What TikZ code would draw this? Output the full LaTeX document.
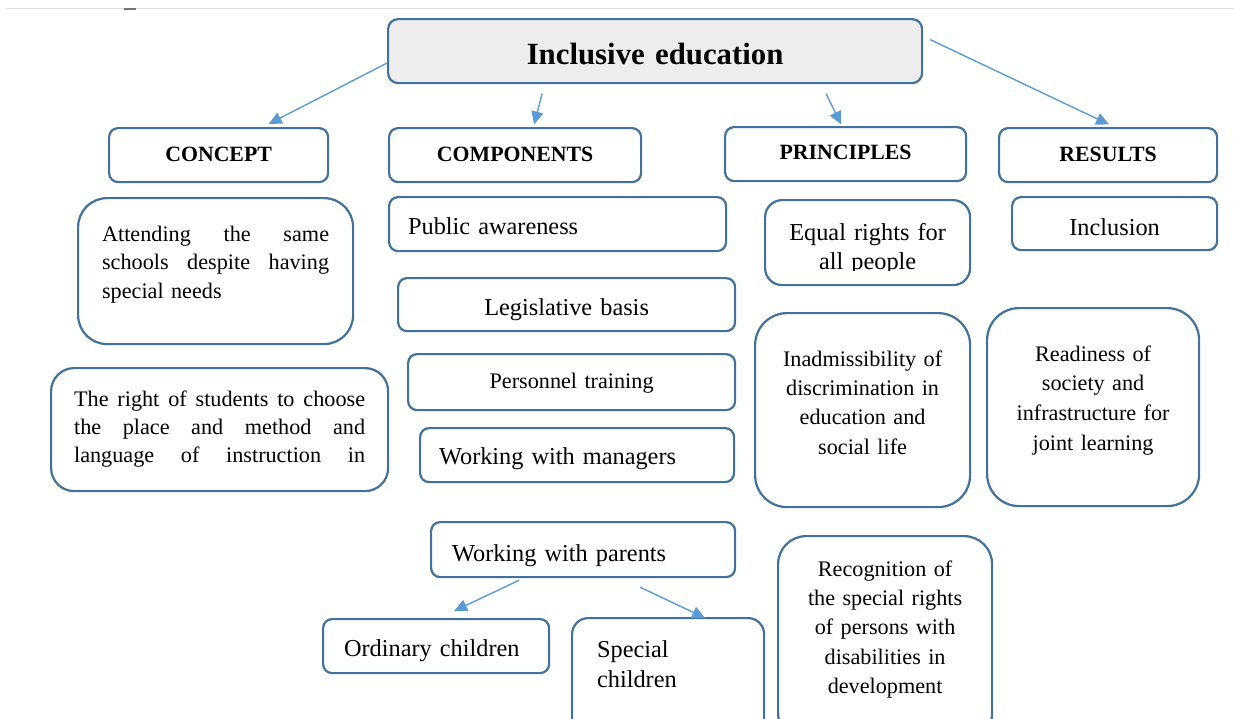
\documentclass[tikz,border=0pt]{standalone}
\usepackage{fontspec}
\setmainfont{Liberation Serif}
\usepackage{tikz}
\usetikzlibrary{arrows.meta, positioning}
\definecolor{edgeblue}{HTML}{41719C}
\definecolor{arrowblue}{HTML}{5B9BD5}
\definecolor{titlegray}{HTML}{EDEDED}
\newcommand{\bigtext}{\fontsize{24.3}{30}\selectfont}
\newcommand{\smalltext}{\fontsize{22.2}{29.4}\selectfont}
\newcommand{\headtext}{\fontsize{21.8}{26}\selectfont\bfseries}
\tikzstyle{arr}=[-{Triangle[length=13pt,width=12pt]},line width=1.4pt,color=arrowblue]
\tikzstyle{blk}=[draw=edgeblue,line width=2.2pt,fill=white,anchor=north west,
                 inner ysep=0pt,inner xsep=10pt,rounded corners=9pt]

\begin{document}
\begin{tikzpicture}[x=1pt,y=-1pt]
  \useasboundingbox (0,0) rectangle (1234,718);
  \fill[white] (0,0) rectangle (1234,718);
  \clip (0,0) rectangle (1234,718);
  % thin rule along the top
  \draw[line width=1.5pt,color=black!12] (6,8.5) -- (1234,8.5);
  \draw[line width=2pt,color=black!55] (124,8.5) -- (136,8.5);

  % root and the four headings
  \node[blk,fill=titlegray,rounded corners=10pt,text width=514pt,text height=45pt,text depth=19pt,
        align=center,font=\fontsize{30.8}{36}\selectfont\bfseries] (root) at (387,18) {Inclusive education};
  \node[blk,text width=199pt,text height=33.5pt,text depth=20.5pt,align=center,font=\headtext] (concept) at (108,127) {CONCEPT};
  \node[blk,text width=232pt,text height=33.5pt,text depth=20.5pt,align=center,font=\headtext] (components) at (388,127) {COMPONENTS};
  \node[blk,text width=221pt,text height=32.5pt,text depth=21.5pt,align=center,font=\headtext] (principles) at (724,126) {PRINCIPLES};
  \node[blk,text width=198pt,text height=33pt,text depth=21pt,align=center,font=\headtext] (results) at (998,127) {RESULTS};

  % concept
  \node[blk,rounded corners=29pt,inner xsep=24pt,text width=227pt,text height=43pt,text depth=103pt,
        align=left,font=\fontsize{22.2}{28.5}\selectfont] (same) at (77,197)
        {\makebox[227pt]{Attending\hfill the\hfill same}\\
         \makebox[227pt]{schools\hfill despite\hfill having}\\
         special needs};
  \node[blk,rounded corners=23pt,inner xsep=23pt,text width=291pt,text height=38pt,text depth=85pt,
        align=left,font=\fontsize{22.2}{28.3}\selectfont] (choice) at (50,367)
        {\makebox[291pt]{The\hfill right\hfill of\hfill students\hfill to\hfill choose}\\
         \makebox[291pt]{the\hfill place\hfill and\hfill method\hfill and}\\
         \makebox[291pt]{language\hfill of\hfill instruction\hfill in}};

  % components
  \node[blk,inner xsep=19pt,text width=299pt,text height=37pt,text depth=17pt,align=left,font=\bigtext] (aware) at (388,196) {Public awareness};
  \node[blk,text width=317pt,text height=37pt,text depth=16pt,align=center,font=\bigtext] (legal) at (397,277) {Legislative basis};
  \node[blk,text width=307pt,text height=34pt,text depth=22pt,align=center,font=\smalltext] (staff) at (407,353) {Personnel training};
  \node[blk,inner xsep=19pt,text width=276pt,text height=36pt,text depth=18pt,align=left,font=\bigtext] (managers) at (419,427) {Working with managers};
  \node[blk,inner xsep=21pt,text width=262pt,text height=39pt,text depth=16pt,align=left,font=\bigtext] (parents) at (430,521) {Working with parents};
  \node[blk,inner xsep=21pt,text width=184pt,text height=37pt,text depth=17pt,align=left,font=\bigtext] (ordinary) at (322,618) {Ordinary children};
  \node[blk,rounded corners=16pt,inner xsep=25pt,text width=142pt,text height=39pt,text depth=84pt,
        align=left,font=\fontsize{24.3}{30.7}\selectfont] (special) at (571,617) {Special\\children};

  % principles
  \node[blk,rounded corners=17pt,text width=185pt,text height=40pt,text depth=45pt,
        align=center,font=\fontsize{24.3}{29.5}\selectfont] (equal) at (764,199) {Equal rights for\\all people};
  \fill[white] ([shift={(40,-15.5)}]equal.south west) rectangle ([shift={(-40,-2)}]equal.south east);
  \node[blk,rounded corners=32pt,text width=195pt,text height=53pt,text depth=141pt,align=center,font=\smalltext] (nodiscr) at (754,312)
        {Inadmissibility of\\discrimination in\\education and\\social life};
  \node[blk,rounded corners=28pt,text width=194pt,text height=40pt,text depth=165pt,
        align=center,font=\fontsize{22.2}{29.3}\selectfont] (recog) at (777,535)
        {Recognition of\\the special rights\\of persons with\\disabilities in\\development};

  % results
  \node[blk,text width=185pt,text height=38pt,text depth=15pt,align=center,font=\bigtext] (inclusion) at (1011,196) {Inclusion};
  \node[blk,rounded corners=32pt,text width=192pt,text height=53pt,text depth=145pt,
        align=center,font=\fontsize{22.2}{29.7}\selectfont] (ready) at (986,307)
        {Readiness of\\society and\\infrastructure for\\joint learning};

  % arrows
  \draw[arr] ([shift={(0,12)}]root.west) -- ([shift={(50,-3)}]concept.north);
  \draw[arr] ([shift={(-113,9.5)}]root.south) -- ([shift={(19,-2.5)}]components.north);
  \draw[arr] ([shift={(171,9.5)}]root.south) -- ([shift={(-4.5,-1.5)}]principles.north);
  \draw[arr] ([shift={(7,-11.5)}]root.east) -- ([shift={(1,-2.5)}]results.north);
  \draw[arr] ([shift={(-64,2)}]parents.south) -- ([shift={(18,-7)}]ordinary.north);
  \draw[arr] ([shift={(57,9)}]parents.south) -- ([shift={(37,1)}]special.north);
\end{tikzpicture}
\end{document}
